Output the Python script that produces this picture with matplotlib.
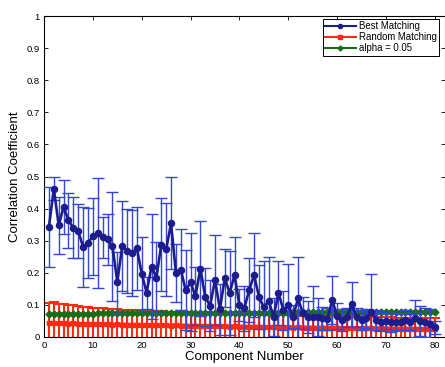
import matplotlib
matplotlib.use("Agg")
import matplotlib.pyplot as plt
from matplotlib.lines import Line2D

plt.rcParams["font.family"] = ["Liberation Sans", "DejaVu Sans"]

components = list(range(1, 81))

best_mean = [
    0.343, 0.462, 0.348, 0.405, 0.363, 0.340, 0.330, 0.280, 0.293, 0.314,
    0.324, 0.310, 0.304, 0.283, 0.171, 0.283, 0.268, 0.262, 0.276, 0.197,
    0.138, 0.219, 0.185, 0.287, 0.273, 0.354, 0.200, 0.210, 0.145, 0.170,
    0.127, 0.213, 0.125, 0.097, 0.178, 0.086, 0.183, 0.137, 0.193, 0.099,
    0.089, 0.146, 0.193, 0.125, 0.092, 0.113, 0.062, 0.138, 0.083, 0.100,
    0.063, 0.120, 0.074, 0.063, 0.061, 0.061, 0.058, 0.055, 0.115, 0.065,
    0.053, 0.061, 0.102, 0.061, 0.053, 0.058, 0.079, 0.053, 0.048, 0.050,
    0.045, 0.048, 0.045, 0.053, 0.045, 0.058, 0.050, 0.045, 0.040, 0.030,
]
best_err = [
    0.125, 0.035, 0.088, 0.085, 0.085, 0.095, 0.085, 0.125, 0.110, 0.120,
    0.170, 0.065, 0.080, 0.170, 0.095, 0.140, 0.130, 0.135, 0.130, 0.115,
    0.050, 0.164, 0.110, 0.145, 0.145, 0.143, 0.090, 0.125, 0.125, 0.153,
    0.090, 0.147, 0.090, 0.080, 0.140, 0.080, 0.090, 0.130, 0.120, 0.050,
    0.070, 0.100, 0.130, 0.100, 0.145, 0.137, 0.060, 0.100, 0.060, 0.127,
    0.035, 0.130, 0.050, 0.050, 0.098, 0.059, 0.035, 0.035, 0.075, 0.040,
    0.035, 0.030, 0.070, 0.030, 0.030, 0.030, 0.117, 0.030, 0.030, 0.025,
    0.030, 0.025, 0.025, 0.031, 0.025, 0.057, 0.047, 0.045, 0.048, 0.020,
]

random_mean = [
    0.043, 0.044, 0.042, 0.043, 0.041, 0.042, 0.040, 0.041, 0.040, 0.040,
    0.039, 0.040, 0.039, 0.038, 0.039, 0.038, 0.038, 0.037, 0.038, 0.037,
    0.037, 0.036, 0.037, 0.036, 0.036, 0.035, 0.036, 0.035, 0.035, 0.034,
    0.035, 0.034, 0.034, 0.033, 0.034, 0.033, 0.033, 0.032, 0.033, 0.032,
    0.032, 0.031, 0.032, 0.031, 0.031, 0.030, 0.031, 0.030, 0.030, 0.030,
    0.029, 0.030, 0.029, 0.029, 0.029, 0.028, 0.029, 0.028, 0.028, 0.028,
    0.028, 0.027, 0.028, 0.027, 0.027, 0.027, 0.027, 0.026, 0.027, 0.026,
    0.026, 0.026, 0.026, 0.025, 0.026, 0.025, 0.025, 0.025, 0.025, 0.024,
]
random_err = [
    0.063, 0.065, 0.062, 0.060, 0.058, 0.057, 0.055, 0.053, 0.052, 0.051,
    0.050, 0.050, 0.049, 0.048, 0.047, 0.047, 0.046, 0.046, 0.045, 0.045,
    0.045, 0.044, 0.044, 0.044, 0.043, 0.043, 0.043, 0.042, 0.042, 0.042,
    0.041, 0.041, 0.041, 0.041, 0.040, 0.040, 0.040, 0.040, 0.040, 0.039,
    0.039, 0.039, 0.039, 0.039, 0.038, 0.038, 0.038, 0.038, 0.038, 0.038,
    0.037, 0.037, 0.037, 0.037, 0.037, 0.037, 0.036, 0.036, 0.036, 0.036,
    0.036, 0.036, 0.036, 0.035, 0.035, 0.035, 0.035, 0.035, 0.035, 0.035,
    0.035, 0.034, 0.034, 0.034, 0.034, 0.034, 0.034, 0.034, 0.034, 0.034,
]

alpha_level = [
    0.072, 0.072, 0.072, 0.072, 0.072, 0.072, 0.072, 0.072, 0.072, 0.072,
    0.073, 0.073, 0.073, 0.073, 0.073, 0.073, 0.073, 0.073, 0.073, 0.073,
    0.074, 0.074, 0.074, 0.074, 0.074, 0.074, 0.074, 0.074, 0.074, 0.074,
    0.075, 0.075, 0.075, 0.075, 0.075, 0.075, 0.075, 0.075, 0.075, 0.075,
    0.076, 0.076, 0.076, 0.076, 0.076, 0.076, 0.076, 0.076, 0.076, 0.076,
    0.077, 0.077, 0.077, 0.077, 0.077, 0.077, 0.077, 0.077, 0.077, 0.077,
    0.078, 0.078, 0.078, 0.078, 0.078, 0.078, 0.078, 0.078, 0.078, 0.078,
    0.078, 0.078, 0.078, 0.078, 0.078, 0.078, 0.078, 0.078, 0.078, 0.078,
]

x_ticks = [0, 10, 20, 30, 40, 50, 60, 70, 80]
y_ticks = [0, 0.1, 0.2, 0.3, 0.4, 0.5, 0.6, 0.7, 0.8, 0.9, 1]
y_ticklabels = ["0", "0.1", "0.2", "0.3", "0.4", "0.5", "0.6", "0.7", "0.8", "0.9", "1"]

BLUE_LINE = "#1c1c8c"
BLUE_BAR = "#3446d2"
RED = "#ff2a12"
GREEN = "#176e17"

fig = plt.figure(figsize=(4.45, 3.67), dpi=100)
ax = fig.add_axes([0.099, 0.082, 0.9, 0.874])

# Random matching: thick red line with dense error bars
ax.errorbar(components, random_mean, yerr=random_err, color=RED, ecolor=RED,
            lw=3.0, elinewidth=1.5, capsize=3.4, capthick=1.5,
            marker="s", ms=3.0, zorder=2)

# Significance level
ax.plot(components, alpha_level, color=GREEN, lw=1.6, marker="D", ms=3.5,
        markeredgecolor=GREEN, zorder=3)

# Best matching
ax.errorbar(components, best_mean, yerr=best_err, color=BLUE_LINE, ecolor=BLUE_BAR,
            lw=1.9, elinewidth=1.0, capsize=4.5, capthick=1.0,
            marker="o", ms=4.4, markeredgecolor=BLUE_LINE, zorder=4)

ax.set_xlim(0, 82)
ax.set_ylim(0, 1)
ax.set_xticks(x_ticks)
ax.set_yticks(y_ticks)
ax.set_yticklabels(y_ticklabels)
ax.tick_params(direction="in", length=3, width=0.6, labelsize=6.8,
               top=True, right=True, pad=3)
for s in ax.spines.values():
    s.set_linewidth(0.8)

ax.set_xlabel("Component Number", fontsize=9.5, labelpad=1)
ax.set_ylabel("Correlation Coefficient", fontsize=9.5, labelpad=4)

handles = [
    Line2D([], [], color=BLUE_LINE, lw=1.5, marker="o", ms=3),
    Line2D([], [], color=RED, lw=1.5, marker="s", ms=2.5),
    Line2D([], [], color=GREEN, lw=1.5, marker="D", ms=2.5),
]
leg = ax.legend(handles, ["Best Matching", "Random Matching", "alpha = 0.05"],
                loc="upper right", bbox_to_anchor=(0.986, 0.992), fontsize=6.9,
                frameon=True, fancybox=False, framealpha=1, edgecolor="black",
                borderpad=0.25, labelspacing=0.12, handlelength=3.2,
                handletextpad=0.3, borderaxespad=0)
leg.get_frame().set_linewidth(0.7)

fig.savefig("out.png", dpi=100)
